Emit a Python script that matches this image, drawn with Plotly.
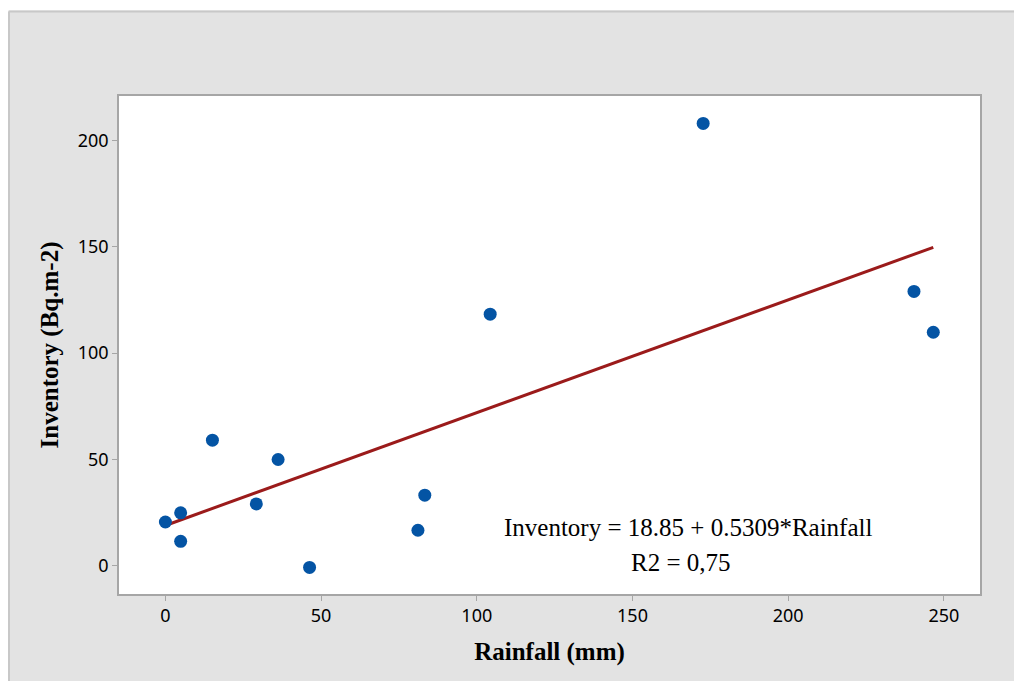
import plotly.graph_objects as go

rainfall = [0, 4.9, 4.9, 15.1, 29.2, 36.2, 46.3, 81.1, 83.3, 104.3, 172.7, 240.4, 246.6]
inventory = [20.5, 24.8, 11.4, 59.0, 29.0, 49.9, -0.9, 16.6, 33.1, 118.3, 208.1, 129.0, 109.8]
intercept = 18.85
slope = 0.5309
x_ticks = [0, 50, 100, 150, 200, 250]
y_ticks = [0, 50, 100, 150, 200]
eq_text = "Inventory = 18.85 + 0.5309*Rainfall"
r2_text = "R2 = 0,75"

fit_x = [min(rainfall), max(rainfall)]
fit_y = [intercept + slope * v for v in fit_x]

fig = go.Figure()
fig.add_trace(go.Scatter(x=fit_x, y=fit_y, mode="lines",
                         line=dict(color="#9b1b1b", width=3), showlegend=False))
fig.add_trace(go.Scatter(x=rainfall, y=inventory, mode="markers",
                         marker=dict(color="#0454a4", size=13), showlegend=False))

serif = "Liberation Serif, Times New Roman, serif"
tickfont = dict(family="Noto Sans, Open Sans, sans-serif", size=18, color="black")

fig.update_xaxes(range=[-14.9, 261.6], tickvals=x_ticks, showgrid=False, zeroline=False,
                 showline=True, linecolor="#a6a6a6", linewidth=1.5, mirror=True,
                 ticks="outside", ticklen=5, tickcolor="#a6a6a6", tickfont=tickfont,
                 title=dict(text="<b>Rainfall (mm)</b>", font=dict(family=serif, size=25, color="black"),
                            standoff=16))
fig.update_yaxes(range=[-13.4, 221], tickvals=y_ticks, showgrid=False, zeroline=False,
                 showline=True, linecolor="#a6a6a6", linewidth=1.5, mirror=True,
                 ticks="outside", ticklen=5, tickcolor="#a6a6a6", tickfont=tickfont,
                 title=dict(text="<b>Inventory (Bq.m-2)</b>", font=dict(family=serif, size=25, color="black"),
                            standoff=12))

fig.add_annotation(x=167.7, y=18.0, xref="x", yref="y", text=eq_text, showarrow=False,
                   font=dict(family=serif, size=25, color="black"))
fig.add_annotation(x=165.6, y=1.5, xref="x", yref="y", text=r2_text, showarrow=False,
                   font=dict(family=serif, size=25, color="black"))

# outer frame: white strips at top and left, gray border lines
L, R, T, B = 119, 980, 96, 594
W, H = R - L, B - T
px = lambda p: (p - L) / W
py = lambda p: (B - p) / H
fig.add_shape(type="rect", xref="paper", yref="paper", x0=px(-20), x1=px(1030), y0=py(10.5), y1=py(-20),
              fillcolor="white", line=dict(width=0), layer="below")
fig.add_shape(type="rect", xref="paper", yref="paper", x0=px(-20), x1=px(8), y0=py(700), y1=py(-20),
              fillcolor="white", line=dict(width=0), layer="below")
fig.add_shape(type="line", xref="paper", yref="paper", x0=px(9), x1=px(1030), y0=py(11.5), y1=py(11.5),
              line=dict(color="#c8c8c8", width=2))
fig.add_shape(type="line", xref="paper", yref="paper", x0=px(9), x1=px(9), y0=py(11.5), y1=py(700),
              line=dict(color="#c8c8c8", width=2))

fig.update_layout(width=1014, height=681, paper_bgcolor="#e3e3e3", plot_bgcolor="white",
                  margin=dict(l=L, r=1014 - R, t=T, b=681 - B), showlegend=False)

fig.write_html("out.html")
